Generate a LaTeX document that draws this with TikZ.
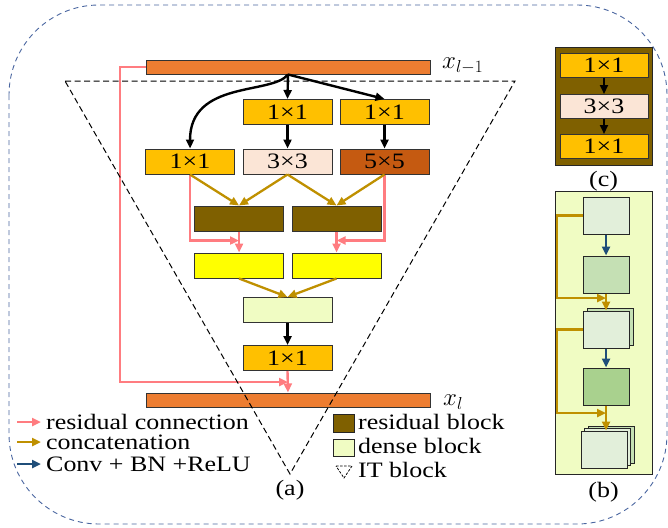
\documentclass[tikz,border=0pt]{standalone}
\usepackage{fontspec}
\setmainfont{Liberation Serif}[FakeStretch=1.18]
\usetikzlibrary{arrows.meta}
\definecolor{barorange}{HTML}{ED7D31}
\definecolor{conva}{HTML}{FFC000}
\definecolor{convb}{HTML}{FBE5D6}
\definecolor{convc}{HTML}{C55A11}
\definecolor{resbrown}{HTML}{7F6000}
\definecolor{yel}{HTML}{FFFF00}
\definecolor{densegreen}{HTML}{F0FCC3}
\definecolor{lightg}{HTML}{E2EFDA}
\definecolor{midg}{HTML}{C5E0B4}
\definecolor{darkg}{HTML}{A9D18E}
\definecolor{respink}{HTML}{FF7C80}
\definecolor{catgold}{HTML}{BF9000}
\definecolor{bnblue}{HTML}{1F4E79}
\definecolor{framblue}{HTML}{4A66A0}
\begin{document}
\begin{tikzpicture}[
    x=1pt,y=-1pt,
    font=\fontsize{22}{24}\selectfont,
    blk/.style={draw=black!80,line width=1pt,minimum width=89pt,minimum height=25pt,inner sep=0pt},
    sq/.style={draw=black!85,line width=1pt,minimum width=46pt,minimum height=37pt,inner sep=0pt},
    bar/.style={draw=black!80,line width=1pt,fill=barorange,minimum width=284pt,minimum height=14pt,inner sep=0pt},
    conv/.style={draw=black,line width=2.4pt,-{Triangle[length=9pt,width=8pt]}},
    res/.style={draw=respink,line width=2.4pt,-{Triangle[length=9pt,width=8pt]}},
    cat/.style={draw=catgold,line width=2.3pt,-{Triangle[length=9pt,width=8pt]}},
    bn/.style={draw=bnblue,line width=2.6pt,-{Triangle[length=9pt,width=8pt]}},
    lgd/.style={anchor=base west,inner sep=0pt},
    mathlab/.style={anchor=west,inner sep=0pt,font=\fontsize{27}{29}\selectfont}
  ]
  \useasboundingbox (0,0) rectangle (668,527);
  \draw[framblue,line width=0.9pt,dash pattern=on 5pt off 4pt,rounded corners=90pt] (9,5) rectangle (667,524);

  \node (xin) [bar] at (288,67) {};
  \node (xinlab) [mathlab] at (442,66) {$x_{l-1}$};
  \node (a1) [blk,fill=conva] at (287.5,112) {1×1};
  \node (b1) [blk,fill=conva] at (384.5,112) {1×1};
  \node (c0) [blk,fill=conva] at (190,161.5) {1×1};
  \node (c1) [blk,fill=convb] at (287.5,161.5) {3×3};
  \node (c2) [blk,fill=convc] at (384.5,161.5) {5×5};
  \node (r0) [blk,fill=resbrown] at (239,218.5) {};
  \node (r1) [blk,fill=resbrown] at (336.5,218.5) {};
  \node (y0) [blk,fill=yel] at (239,265.5) {};
  \node (y1) [blk,fill=yel] at (336.5,265.5) {};
  \node (d) [blk,fill=densegreen] at (287.5,310) {};
  \node (e) [blk,fill=conva] at (287.5,358) {1×1};
  \node (xout) [bar] at (288,400) {};
  \node (xoutlab) [mathlab] at (443,402) {$x_l$};
  \coordinate (skip) at (120,382);

  \draw[conv] (xin.south) .. controls (272,95) and (190,80) .. (c0.north);
  \draw[conv] (xin.south) -- (a1.north);
  \draw[conv] (xin.south) -- (b1.north);
  \draw[conv] (a1.south) -- (c1.north);
  \draw[conv] (b1.south) -- (c2.north);
  \draw[conv] (d.south) -- (e.north);

  \draw[res] (c0.south) |- ([yshift=-9pt]r0.south);
  \draw[res] (c2.south) |- ([yshift=-9pt]r1.south);
  \draw[res] (r0.south) -- (y0.north);
  \draw[res] (r1.south) -- (y1.north);
  \draw[res] (e.south) -- (xout.north);
  \draw[res] (xin.west) -| (skip) -- (skip -| xout.north);

  \draw[cat] (c0.south) -- (r0.north);
  \draw[cat] (c1.south) -- (r0.north);
  \draw[cat] (c1.south) -- (r1.north);
  \draw[cat] (c2.south) -- (r1.north);
  \draw[cat] (y0.south) -- (d.north);
  \draw[cat] (y1.south) -- (d.north);

  \coordinate (tl) at (65,81);
  \coordinate (tr) at (515,81);
  \coordinate (tip) at (290,474);
  \draw[line width=1pt,dash pattern=on 6pt off 3.5pt] (tl) -- (tr) -- (tip) -- cycle;
  \node (capa) at (290,490) {(a)};

  \node (lres) [lgd] at (46,429) {residual connection};
  \node (lcat) [lgd] at (46,449) {concatenation};
  \node (lbn) [lgd] at (46,471) {Conv + BN +ReLU};
  \draw[res] ([xshift=-29pt,yshift=7pt]lres.base west) -- ([xshift=-5pt,yshift=7pt]lres.base west);
  \draw[cat] ([xshift=-29pt,yshift=7pt]lcat.base west) -- ([xshift=-5pt,yshift=7pt]lcat.base west);
  \draw[bn] ([xshift=-29pt,yshift=7pt]lbn.base west) -- ([xshift=-5pt,yshift=7pt]lbn.base west);

  \node (kres) [draw=black!85,line width=1pt,fill=resbrown,minimum width=21pt,minimum height=18pt,inner sep=0pt] at (343.5,423) {};
  \node (kden) [draw=black!85,line width=1pt,fill=densegreen,minimum width=21pt,minimum height=17pt,inner sep=0pt] at (343.5,447.5) {};
  \coordinate (it1) at (336,466);
  \coordinate (it2) at (352,466);
  \coordinate (it3) at (344,478);
  \draw[line width=0.8pt,dash pattern=on 2.5pt off 1.5pt] (it1) -- (it2) -- (it3) -- cycle;
  \node (lkres) [lgd] at (358,429) {residual block};
  \node (lkden) [lgd] at (358,453) {dense block};
  \node (lkit) [lgd] at (358,477) {IT block};

  \node (cpanel) [draw=black!85,line width=1pt,fill=resbrown,minimum width=97pt,minimum height=117pt,inner sep=0pt] at (603.5,106.5) {};
  \node (ca) [blk,fill=conva,minimum width=88pt,minimum height=24pt] at (604,65) {1×1};
  \node (cb) [blk,fill=convb,minimum width=88pt,minimum height=24pt] at (604,106.5) {3×3};
  \node (cc) [blk,fill=conva,minimum width=88pt,minimum height=24pt] at (604,146.5) {1×1};
  \draw[conv,line width=2pt] (ca.south) -- (cb.north);
  \draw[conv,line width=2pt] (cb.south) -- (cc.north);
  \node (capc) at (603.5,181) {(c)};

  \node (bpanel) [draw=black!85,line width=1pt,fill=densegreen,minimum width=97pt,minimum height=283pt,inner sep=0pt] at (603.5,332.5) {};
  \node (f1) [sq,fill=lightg] at (606,215.5) {};
  \node (f2) [sq,fill=midg] at (606,274.5) {};
  \node (f3b) [sq,fill=midg] at (610,326.5) {};
  \node (f3) [sq,fill=lightg] at (606,329.5) {};
  \node (f4) [sq,fill=darkg] at (606,386.5) {};
  \node (f5c) [sq,fill=midg] at (611,444.5) {};
  \node (f5b) [sq,fill=lightg] at (607.5,447) {};
  \node (f5) [sq,fill=lightg] at (604,449.5) {};
  \coordinate (s1) at (557,298);
  \coordinate (s2) at (557,413);
  \draw[bn] (f1.south) -- (f2.north);
  \draw[bn] (f3.south) -- (f4.north);
  \draw[cat] (f2.south) -- (f3.north);
  \draw[cat] (f4.south) -- (f4.south |- f5.north);
  \draw[cat] (f1.west) -| (s1) -- (s1 -| f2.south);
  \draw[cat] (f3.west) -| (s2) -- (s2 -| f4.south);
  \node (capb) at (603.5,492) {(b)};
\end{tikzpicture}
\end{document}
